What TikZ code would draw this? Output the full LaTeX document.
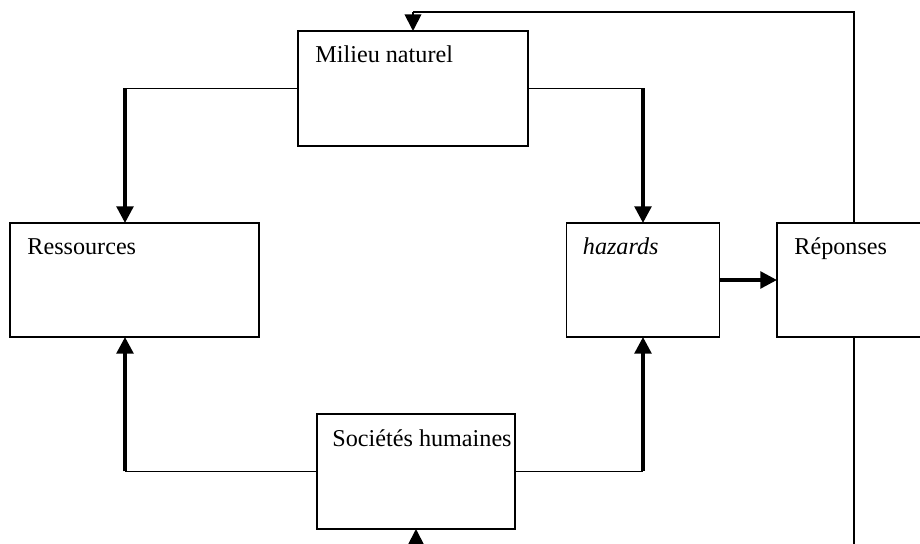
\documentclass[tikz,border=0pt]{standalone}
\usepackage{fontspec}
\setmainfont{Liberation Serif}
\usetikzlibrary{arrows.meta,positioning}

\begin{document}
\begin{tikzpicture}[
  x=0.48pt,y=-0.48pt,
  box/.style 2 args={draw,line width=0.8pt,minimum width=#1*0.48pt,minimum height=#2*0.48pt,inner sep=0pt,outer sep=0pt},
  boxtext/.style={anchor=base west,inner sep=0pt,font=\fontsize{11.6}{14}\selectfont},
  branch/.style={line width=0.8pt},
  thickarrow/.style={line width=1.7pt,-{Triangle[width=8pt,length=8pt]}},
  feedback/.style={line width=0.9pt}]

  \clip (0,0) rectangle (920,544);

  % ------------------- boxes ----------------------
  \node[box={230}{115}] (milieu)     at (413,88.5)  {};
  \node[box={249}{114}] (ressources) at (134.5,280) {};
  \node[box={153}{114}] (hazards)    at (643,280)   {};
  \node[box={154}{114}] (reponses)   at (854,280)   {};
  \node[box={198}{115}] (societes)   at (416,471.5) {};

  \node[boxtext] (milieu-txt)     at ([shift={(17,32)}]milieu.north west)     {Milieu naturel};
  \node[boxtext] (ressources-txt) at ([shift={(17,32)}]ressources.north west) {Ressources};
  \node[boxtext] (hazards-txt)    at ([shift={(16,32)}]hazards.north west)    {\textit{hazards}};
  \node[boxtext] (reponses-txt)   at ([shift={(17,32)}]reponses.north west)   {Réponses};
  \node[boxtext] (societes-txt)   at ([shift={(15,33)}]societes.north west)   {Sociétés humaines};

  % ------------------- branches ----------------------
  \coordinate (res-top) at (125,88.5);
  \coordinate (haz-top) at (643,88.5);
  \coordinate (res-bot) at (125,471.5);
  \coordinate (haz-bot) at (643,471.5);

  \draw[branch] (milieu.west) -- (res-top);
  \draw[thickarrow] (res-top) -- (res-top |- ressources.north);
  \draw[branch] (milieu.east) -- (haz-top);
  \draw[thickarrow] (haz-top) -- (haz-top |- hazards.north);

  \draw[branch] (societes.west) -- (res-bot);
  \draw[thickarrow] (res-bot) -- (res-bot |- ressources.south);
  \draw[branch] (societes.east) -- (haz-bot);
  \draw[thickarrow] (haz-bot) -- (haz-bot |- hazards.south);

  \draw[thickarrow] (hazards.east) -- (reponses.west);

  % ------------------- feedback ----------------------
  \coordinate (fb-topright) at (854,12);
  \coordinate (fb-topleft)  at (413,12);
  \coordinate (fb-botright) at (854,575);
  \coordinate (fb-botleft)  at (416,575);

  \draw[feedback] (reponses.north) -- (fb-topright) -- (fb-topleft);
  \draw[feedback,-{Triangle[width=8pt,length=8pt]}] (fb-topleft) -- (milieu.north);
  \draw[feedback] (reponses.south) -- (fb-botright) -- (fb-botleft);
  \draw[feedback,-{Triangle[width=8pt,length=8pt]}] (fb-botleft) -- (societes.south);
\end{tikzpicture}
\end{document}
